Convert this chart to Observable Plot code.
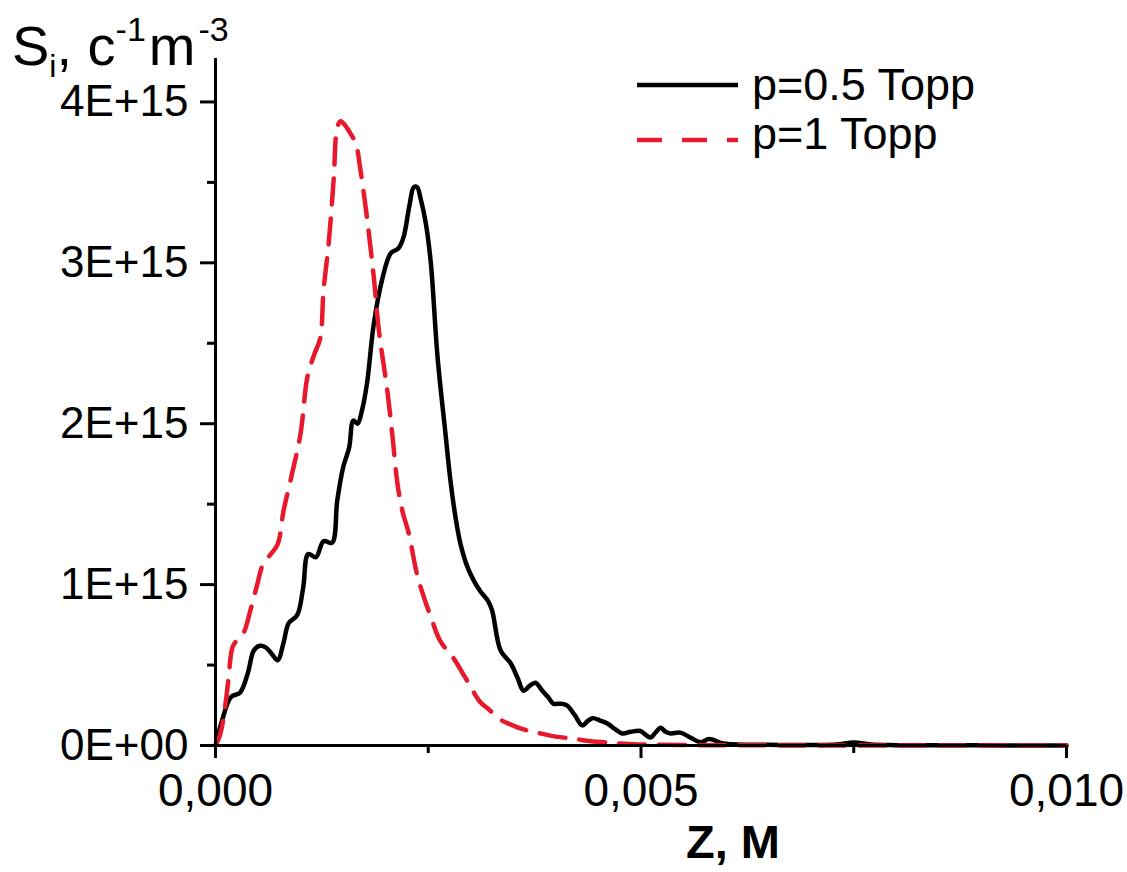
<!DOCTYPE html>
<html>
<head>
<meta charset="utf-8">
<script src="https://cdn.jsdelivr.net/npm/d3@7"></script>
<script src="https://cdn.jsdelivr.net/npm/@observablehq/plot@0.6"></script>
<style>
  html, body { margin: 0; padding: 0; background: white; }
  #chart { position: relative; width: 1127px; height: 872px; }
</style>
</head>
<body>
<div id="chart"></div>
<script>
// ---- data (z in metres, S_i in units of 1E+15 c^-1 m^-3) ----
const seriesNames = ["p=0.5 Topp", "p=1 Topp"];

const zHalf = [0, 0.00008, 0.00018, 0.00029, 0.00038, 0.00045, 0.00052, 0.00059, 0.00066, 0.00073,
  0.0008, 0.00086, 0.00096, 0.00103, 0.00109, 0.00118, 0.00127, 0.00137, 0.00143, 0.0015,
  0.00157, 0.00162, 0.00167, 0.00172, 0.00178, 0.00186, 0.00196, 0.00206, 0.00215, 0.00221,
  0.00228, 0.00233, 0.00237, 0.00241, 0.00247, 0.00253, 0.00261, 0.0027, 0.00276, 0.00282,
  0.00288, 0.00296, 0.00304, 0.00311, 0.0032, 0.00325, 0.00335, 0.00347, 0.00355, 0.00362,
  0.00369, 0.00376, 0.00384, 0.00391, 0.00397, 0.00405, 0.00413, 0.00422, 0.00431, 0.00437,
  0.00443, 0.00452, 0.00461, 0.0047, 0.00478, 0.00488, 0.00499, 0.00511, 0.00517, 0.00523,
  0.00529, 0.00535, 0.00546, 0.00558, 0.0057, 0.0058, 0.00597, 0.0062, 0.0065, 0.007,
  0.0073, 0.0075, 0.0077, 0.008, 0.0085, 0.009, 0.0095, 0.01];
const sHalf = [0, 0.16, 0.30, 0.33, 0.45, 0.59, 0.62, 0.61, 0.57, 0.53,
  0.64, 0.76, 0.81, 0.98, 1.19, 1.17, 1.27, 1.26, 1.52, 1.73,
  1.85, 2.02, 2.00, 2.08, 2.25, 2.62, 2.90, 3.06, 3.09, 3.16,
  3.36, 3.47, 3.47, 3.40, 3.25, 3.00, 2.41, 1.95, 1.65, 1.42,
  1.25, 1.11, 1.02, 0.96, 0.90, 0.84, 0.59, 0.51, 0.42, 0.34,
  0.37, 0.39, 0.34, 0.30, 0.26, 0.26, 0.25, 0.19, 0.125, 0.15,
  0.17, 0.155, 0.135, 0.10, 0.075, 0.085, 0.09, 0.05, 0.08, 0.11,
  0.085, 0.075, 0.08, 0.05, 0.02, 0.04, 0.012, 0.005, 0.004, 0.003,
  0.006, 0.018, 0.006, 0.002, 0.001, 0.001, 0.0005, 0];

const zOne = [0, 0.00005, 0.000094, 0.00015, 0.0002, 0.00026, 0.00033, 0.00041, 0.00049, 0.00056,
  0.00065, 0.00073, 0.0008, 0.0009, 0.001, 0.00108, 0.00116, 0.00123, 0.00127, 0.00133,
  0.00139, 0.00143, 0.00147, 0.00153, 0.00159, 0.00165, 0.0017, 0.00178, 0.00186, 0.00192,
  0.00202, 0.00208, 0.00214, 0.0022, 0.00227, 0.00237, 0.00245, 0.00253, 0.00264, 0.0028,
  0.00296, 0.00311, 0.0032, 0.00335, 0.00347, 0.00362, 0.00378, 0.004, 0.00417, 0.00436,
  0.00456, 0.00476, 0.00496, 0.0053, 0.0057, 0.006, 0.0065, 0.007, 0.008, 0.009, 0.01];
const sOne = [0, 0.06, 0.17, 0.40, 0.61, 0.66, 0.70, 0.84, 1.00, 1.13,
  1.19, 1.25, 1.46, 1.69, 1.94, 2.29, 2.43, 2.53, 2.83, 3.12,
  3.53, 3.84, 3.88, 3.85, 3.80, 3.74, 3.59, 3.28, 2.91, 2.58,
  2.20, 1.92, 1.62, 1.45, 1.32, 1.06, 0.92, 0.80, 0.65, 0.54,
  0.40, 0.27, 0.23, 0.16, 0.13, 0.10, 0.08, 0.055, 0.045, 0.03,
  0.02, 0.012, 0.007, 0.004, 0.002, 0.001, 0.001, 0, 0, 0, 0];

const xTicks = [0, 0.005, 0.010];
const xMinorTicks = [0.0025, 0.0075];
const yTicks = [0, 1, 2, 3, 4];
const yTickLabels = ["0E+00", "1E+15", "2E+15", "3E+15", "4E+15"];
const yMinorTicks = [0.5, 1.5, 2.5, 3.5];

const colors = ["#000000", "#e8192c"];
const FONT = "'Liberation Sans', Arial, Helvetica, sans-serif";

const dataHalf = zHalf.map((z, i) => ({z, s: sHalf[i]}));
const dataOne = zOne.map((z, i) => ({z, s: sOne[i]}));
const Y_MAX = 4.27;

const plot = Plot.plot({
  width: 1127,
  height: 872,
  marginLeft: 215,
  marginRight: 61,
  marginTop: 58,
  marginBottom: 127,
  style: {fontFamily: FONT, fontSize: "44px", background: "white", color: "black"},
  x: {domain: [0, 0.010]},
  y: {domain: [0, Y_MAX]},
  marks: [
    Plot.line(dataHalf, {x: "z", y: "s", stroke: colors[0], strokeWidth: 4.5, curve: "catmull-rom"}),
    Plot.line(dataOne, {x: "z", y: "s", stroke: colors[1], strokeWidth: 4.5, strokeDasharray: "26,14", curve: "catmull-rom"}),
    Plot.ruleY([0], {stroke: "black", strokeWidth: 3}),
    Plot.ruleX([0], {y1: 0, y2: Y_MAX, stroke: "black", strokeWidth: 3}),
    Plot.axisX(xTicks, {tickSize: 13, tickPadding: 15, strokeWidth: 3, fontSize: 46, label: null,
      tickFormat: d => d.toFixed(3).replace(".", ",")}),
    Plot.axisX(xMinorTicks, {tickSize: 8, strokeWidth: 3, label: null, tickFormat: () => ""}),
    Plot.axisY(yTicks, {tickSize: 15, tickPadding: 12, strokeWidth: 3, fontSize: 44, label: null,
      tickFormat: (d) => yTickLabels[yTicks.indexOf(d)]}),
    Plot.axisY(yMinorTicks, {tickSize: 8, strokeWidth: 3, label: null, tickFormat: () => ""})
  ]
});

document.getElementById("chart").appendChild(plot);
const svg = d3.select(plot);

// y-axis title: S_i, c^-1 m^-3
const yt = svg.append("text")
  .attr("x", 12).attr("y", 65)
  .attr("text-anchor", "start")
  .attr("font-family", FONT).attr("font-size", 56).attr("fill", "black");
yt.append("tspan").text("S");
yt.append("tspan").attr("font-size", 32).attr("dy", 12).text("i");
yt.append("tspan").attr("dy", -12).text(", c");
yt.append("tspan").attr("font-size", 34).attr("dy", -24).text("-1");
yt.append("tspan").attr("dy", 24).attr("dx", 3).text("m");
yt.append("tspan").attr("font-size", 34).attr("dy", -24).attr("dx", 3).text("-3");

// x-axis title
svg.append("text")
  .attr("x", 733).attr("y", 858)
  .attr("text-anchor", "middle")
  .attr("font-family", FONT).attr("font-size", 47).attr("font-weight", "bold")
  .attr("fill", "black")
  .text("Z, M");

// legend
const legendRows = [
  {y: 85, ty: 100, dash: null},
  {y: 140, ty: 149, dash: "25,20"}
];
legendRows.forEach((r, i) => {
  svg.append("line")
    .attr("x1", 637).attr("x2", 738).attr("y1", r.y).attr("y2", r.y)
    .attr("stroke", colors[i]).attr("stroke-width", 4.5)
    .attr("stroke-dasharray", r.dash);
  svg.append("text")
    .attr("x", 752).attr("y", r.ty)
    .attr("text-anchor", "start")
    .attr("font-family", FONT).attr("font-size", 45).attr("fill", "black")
    .text(seriesNames[i]);
});
</script>
</body>
</html>
